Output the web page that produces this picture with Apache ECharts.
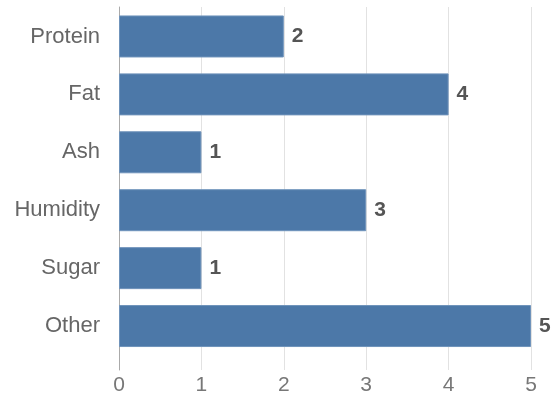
<!DOCTYPE html>
<html>
<head>
<meta charset="utf-8">
<script src="https://cdn.jsdelivr.net/npm/echarts@6/dist/echarts.min.js"></script>
<style>
  html, body { margin: 0; padding: 0; background: #fff; }
  #chart { width: 553px; height: 396px; }
</style>
</head>
<body>
<div id="chart"></div>
<script>
// data
const categories = ["Protein", "Fat", "Ash", "Humidity", "Sugar", "Other"];
const values = [2, 4, 1, 3, 1, 5];
const xTicks = [0, 1, 2, 3, 4, 5];

const FONT = "Liberation Sans, Arial, sans-serif";

const chart = echarts.init(document.getElementById("chart"), null, { renderer: "canvas" });

chart.setOption({
  animation: false,
  textStyle: { fontFamily: FONT },
  grid: [
    // gridlines + tick labels
    { left: 119, right: 22, top: 7, bottom: 23, containLabel: false },
    // bars
    { left: 119, right: 22, top: 7.5, height: 347.5, containLabel: false }
  ],
  xAxis: [
    {
      gridIndex: 0,
      type: "value",
      min: xTicks[0],
      max: xTicks[xTicks.length - 1],
      interval: 1,
      axisLine: { show: false },
      axisTick: { show: false },
      splitLine: { show: true, lineStyle: { color: "#e2e2e2", width: 1 } },
      axisLabel: { color: "#777", fontSize: 21, margin: 5, fontFamily: FONT }
    },
    {
      gridIndex: 1,
      type: "value",
      min: 0,
      max: 5,
      show: false
    }
  ],
  yAxis: [
    {
      gridIndex: 0,
      type: "value",
      min: 0,
      max: 1,
      axisLine: { show: true, lineStyle: { color: "#aaa", width: 1 } },
      axisTick: { show: false },
      axisLabel: { show: false },
      splitLine: { show: false }
    },
    {
      gridIndex: 1,
      type: "category",
      data: categories,
      inverse: true,
      axisLine: { show: false },
      axisTick: { show: false },
      splitLine: { show: false },
      axisLabel: { color: "#666", fontSize: 22, margin: 19, fontFamily: FONT }
    }
  ],
  series: [
    {
      type: "bar",
      xAxisIndex: 1,
      yAxisIndex: 1,
      data: values,
      barWidth: 42,
      itemStyle: { color: "#4c78a8", borderColor: "#6f93bb", borderWidth: 1 },
      label: {
        show: true,
        position: "right",
        distance: 8,
        color: "#555",
        fontWeight: "bold",
        fontSize: 21,
        fontFamily: FONT
      }
    }
  ]
});
</script>
</body>
</html>
